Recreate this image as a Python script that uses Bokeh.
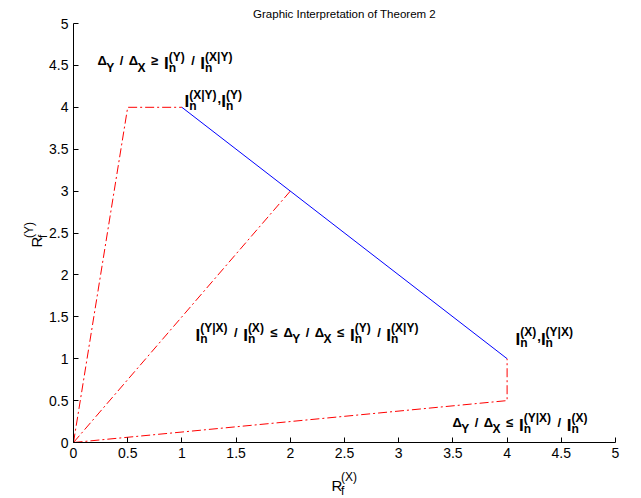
import math
from bokeh.plotting import figure
from bokeh.models import Label, Range1d, FixedTicker
from bokeh.embed import file_html
from bokeh.resources import INLINE

# ---- data ----
boundary_x = [1, 4]          # blue solid segment
boundary_y = [4, 1]
upper_x = [0, 0.5, 1]        # red dash-dot rays
upper_y = [0, 4, 4]
middle_x = [0, 2]
middle_y = [0, 3]
lower_x = [0, 4, 4]
lower_y = [0, 0.5, 1]

ticks = [0, 0.5, 1, 1.5, 2, 2.5, 3, 3.5, 4, 4.5, 5]
tick_labels = ["0", "0.5", "1", "1.5", "2", "2.5", "3", "3.5", "4", "4.5", "5"]

title_text = "Graphic Interpretation of Theorem 2"

# ---- layout (pixels) ----
W_FIG, H_FIG = 640, 498
AX_LEFT, AX_RIGHT = 73, 615      # pixel of x=0 and x=5
AX_BOTTOM, AX_TOP = 442, 23      # pixel of y=0 and y=5
PX = (AX_RIGHT - AX_LEFT) / 5.0
PY = (AX_BOTTOM - AX_TOP) / 5.0
FONT = "Liberation Sans"

x_range = Range1d(-AX_LEFT / PX, (W_FIG - AX_LEFT) / PX)
y_range = Range1d(-(H_FIG - AX_BOTTOM) / PY, AX_BOTTOM / PY)

p = figure(width=W_FIG, height=H_FIG, output_backend="svg", toolbar_location=None,
           x_range=x_range, y_range=y_range,
           min_border=0, min_border_left=0, min_border_right=0,
           min_border_top=0, min_border_bottom=0)
p.outline_line_color = None
p.xgrid.visible = False
p.ygrid.visible = False
p.background_fill_color = "white"
p.border_fill_color = "white"

for ax in (p.xaxis[0], p.yaxis[0]):
    ax.fixed_location = 0
    ax.bounds = (0, 5)
    ax.ticker = FixedTicker(ticks=ticks)
    ax.major_label_overrides = {t: l for t, l in zip(ticks, tick_labels)}
    ax.major_tick_in = 5
    ax.major_tick_out = 0
    ax.minor_tick_line_color = None
    ax.axis_line_color = "black"
    ax.major_tick_line_color = "black"
    ax.major_label_text_font = FONT
    ax.major_label_text_font_size = "14px"
    ax.major_label_text_color = "black"
    ax.major_label_standoff = 5

p.line(upper_x, upper_y, line_color="red", line_width=1, line_dash="9 3 2 3")
p.line(middle_x, middle_y, line_color="red", line_width=1, line_dash="9 3 2 3")
p.line(lower_x, lower_y, line_color="red", line_width=1, line_dash="9 3 2 3")
p.line(boundary_x, boundary_y, line_color="blue", line_width=1)

W = {' ': 278, '(': 333, ')': 333, ',': 278, '/': 278, 'I': 278, 'X': 667, 'Y': 667,
     'n': 611, '|': 280, '\u0394': 667, '\u2264': 584, '\u2265': 584, 'R': 722, 'f': 333}


def tw(s, size):
    return sum(W.get(c, 556) for c in s) * size / 1000.0


def layout(tokens, base=13, script=12, big=17, gap=5.5):
    pieces = []
    x = 0.0
    for tok in tokens:
        kind = tok[0]
        if kind == 't':
            pieces.append((tok[1], x, 0, base))
            x += tw(tok[1], base)
        elif kind == 'g':
            x += gap
        elif kind == 'D':
            pieces.append(('\u0394', x, 0, base))
            x += tw('\u0394', base)
            pieces.append((tok[1], x, 7, script))
            x += tw(tok[1], script)
        elif kind == 'I':
            pieces.append(('I', x, 3, big))
            x += tw('I', big)
            pieces.append(('n', x, 7, script))
            pieces.append((tok[1], x, -4, script))
            x += max(tw('n', script), tw(tok[1], script)) + 1
    return pieces


def place(pieces, ax, ay, angle=0.0, bold=True):
    for text, dx, dy, size in pieces:
        if angle == 0:
            x = ax + dx / PX
            y = ay - dy / PY
        else:
            x = ax + dy / PX
            y = ay + dx / PY
        p.add_layout(Label(x=x, y=y, text=text, text_font=FONT,
                           text_font_size=f"{size}px",
                           text_font_style="bold" if bold else "normal",
                           text_align="left", text_baseline="alphabetic",
                           angle=angle, text_color="black"))


G = ('g',)
ann1 = [('D', 'Y'), G, ('t', '/'), G, ('D', 'X'), G, ('t', '\u2265'), G,
        ('I', '(Y)'), G, ('t', '/'), G, ('I', '(X|Y)')]
ann2 = [('I', '(X|Y)'), ('t', ','), ('I', '(Y)')]
ann3 = [('I', '(Y|X)'), G, ('t', '/'), G, ('I', '(X)'), G, ('t', '\u2264'), G,
        ('D', 'Y'), G, ('t', '/'), G, ('D', 'X'), G, ('t', '\u2264'), G,
        ('I', '(Y)'), G, ('t', '/'), G, ('I', '(X|Y)')]
ann4 = [('I', '(X)'), ('t', ','), ('I', '(Y|X)')]
ann5 = [('D', 'Y'), G, ('t', '/'), G, ('D', 'X'), G, ('t', '\u2264'), G,
        ('I', '(Y|X)'), G, ('t', '/'), G, ('I', '(X)')]

place(layout(ann1), 0.221, 4.558)
place(layout(ann2), 1.024, 4.105)
place(layout(ann3), 1.125, 1.313)
place(layout(ann4), 4.078, 1.265)
place(layout(ann5), 3.496, 0.239)

# axis labels R_f^(X), R_f^(Y)
xlab = [('R', 0, 0, 15), ('f', 9.5, 6, 12), ('(X)', 9.5, -8, 12)]
ylab = [('R', 0, 0, 15), ('f', 9.5, 6, 12), ('(Y)', 9.5, -8, 12)]
place(xlab, 2.380, -0.513, bold=False)
place(ylab, -0.341, 2.327, angle=math.pi / 2, bold=False)

# title
p.add_layout(Label(x=2.5, y=5.119, text=title_text, text_font=FONT, text_font_size="11.5px",
                   text_align="center", text_baseline="alphabetic", text_color="black"))

open("out.html", "w").write(file_html(p, INLINE))
